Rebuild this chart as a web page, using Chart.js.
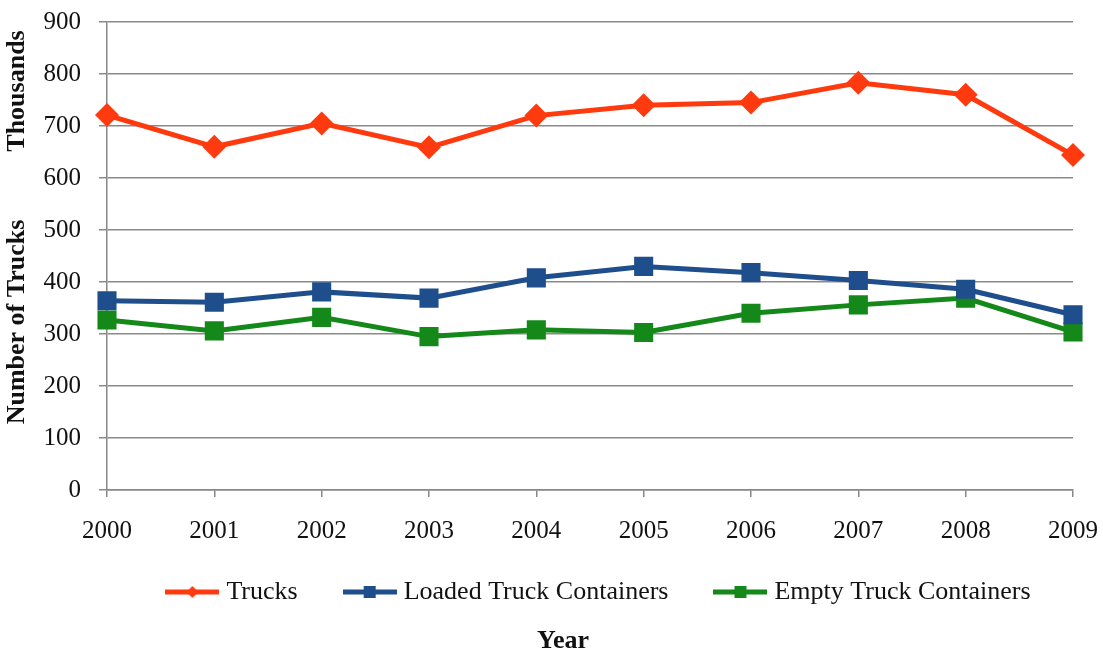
<!DOCTYPE html>
<html>
<head>
<meta charset="utf-8">
<script src="https://cdn.jsdelivr.net/npm/chart.js@4"></script>
<style>
html,body{margin:0;padding:0;background:#fff;}
#wrap{width:1103px;height:654px;position:relative;}
</style>
</head>
<body>
<div id="wrap"><canvas id="c" width="1103" height="654"></canvas></div>
<script>
const years = ['2000','2001','2002','2003','2004','2005','2006','2007','2008','2009'];
const trucks = [721, 660, 705, 659, 720, 740, 745, 783, 760, 644];
const loadedContainers = [364, 361, 381, 369, 408, 430, 418, 403, 386, 337];
const emptyContainers = [327, 306, 332, 295, 308, 303, 340, 356, 369, 304];
const yTicks = [0, 100, 200, 300, 400, 500, 600, 700, 800, 900];

const RED = '#FF3A0E', BLUE = '#1F4E8C', GREEN = '#15881A';
const FONT = "'Liberation Serif', 'Times New Roman', serif";

function legendIcon(color, style) {
  const c = document.createElement('canvas');
  c.width = 54; c.height = 20;
  const x = c.getContext('2d');
  x.strokeStyle = color; x.lineWidth = 5;
  x.beginPath(); x.moveTo(0, 10); x.lineTo(54, 10); x.stroke();
  x.fillStyle = color;
  if (style === 'diamond') {
    x.beginPath(); x.moveTo(27, 4); x.lineTo(33, 10); x.lineTo(27, 16); x.lineTo(21, 10); x.closePath(); x.fill();
  } else {
    x.fillRect(21, 4, 12, 12);
  }
  return c;
}

const extras = {
  id: 'extras',
  afterLayout(chart) {
    const lg = chart.legend;
    if (lg) { lg.left += 11; lg.right += 11; lg.top -= 18; lg.bottom -= 18; }
  },
  afterDraw(chart) {
    const ctx = chart.ctx;
    ctx.save();
    ctx.fillStyle = '#111';
    ctx.font = "bold 26px " + FONT;
    ctx.textAlign = 'center';
    ctx.textBaseline = 'middle';
    ctx.fillText('Year', 563, 641);
    [['Thousands', 91], ['Number of Trucks', 322]].forEach(([t, y]) => {
      ctx.save();
      ctx.translate(17, y);
      ctx.rotate(-Math.PI / 2);
      ctx.fillText(t, 0, 0);
      ctx.restore();
    });
    ctx.restore();
  }
};

const ds = (label, data, color, style, radius, icon) => ({
  label, data,
  borderColor: color, backgroundColor: color,
  borderWidth: 5, pointStyle: style, pointRadius: radius, pointHoverRadius: radius,
  pointBackgroundColor: color, pointBorderColor: color, pointBorderWidth: 0,
  tension: 0, icon
});

new Chart(document.getElementById('c'), {
  type: 'line',
  data: {
    labels: years,
    datasets: [
      ds('Trucks', trucks, RED, 'rectRot', 12, legendIcon(RED, 'diamond')),
      ds('Loaded Truck Containers', loadedContainers, BLUE, 'rect', 13.5, legendIcon(BLUE, 'square')),
      ds('Empty Truck Containers', emptyContainers, GREEN, 'rect', 13.5, legendIcon(GREEN, 'square'))
    ]
  },
  options: {
    responsive: false,
    animation: false,
    layout: { padding: { top: 22, right: 30, bottom: 21, left: 0 } },
    scales: {
      x: {
        type: 'category',
        offset: false,
        grid: { drawOnChartArea: false, drawTicks: true, tickLength: 7, color: '#888', lineWidth: 1.5 },
        border: { color: '#888', width: 1.5 },
        ticks: { color: '#111', font: { family: FONT, size: 25 }, padding: 19, maxRotation: 0, autoSkip: false },
        afterFit(s) { s.height = 56; s.paddingRight = 0; s.paddingLeft = 0; }
      },
      y: {
        min: 0, max: 900,
        afterBuildTicks(s) { s.ticks = yTicks.map(v => ({ value: v })); },
        grid: { color: '#8a8a8a', lineWidth: 1.5, tickLength: 8 },
        border: { color: '#888', width: 1.5 },
        ticks: { color: '#111', font: { family: FONT, size: 25 }, padding: 18 },
        afterFit(s) { s.width = 107; s.paddingTop = 0; s.paddingBottom = 0; }
      }
    },
    plugins: {
      legend: {
        position: 'bottom',
        fullSize: false,
        labels: {
          usePointStyle: true,
          pointStyleWidth: 42,
          boxHeight: 20,
          padding: 51,
          color: '#111',
          font: { family: FONT, size: 26 },
          generateLabels(chart) {
            return chart.data.datasets.map((d, i) => ({
              text: d.label, pointStyle: d.icon, fillStyle: d.borderColor,
              strokeStyle: d.borderColor, lineWidth: 0, hidden: false, datasetIndex: i, fontColor: '#111'
            }));
          }
        }
      },
      title: { display: false },
      tooltip: { enabled: false }
    }
  },
  plugins: [extras]
});
</script>
</body>
</html>
